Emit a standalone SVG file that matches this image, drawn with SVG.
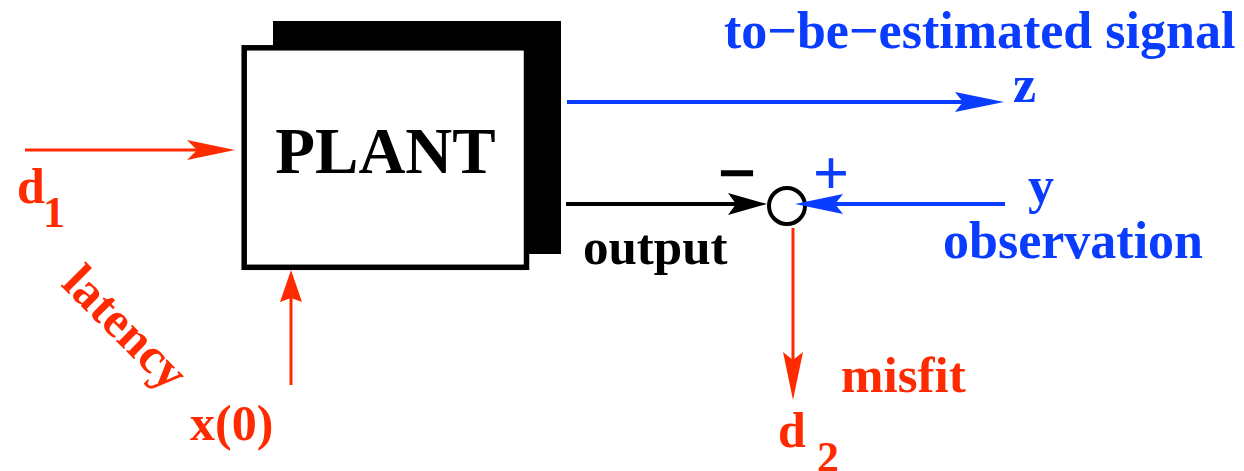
<svg xmlns="http://www.w3.org/2000/svg" width="1244" height="471" viewBox="0 0 1244 471">
<style>
text{font-family:"Liberation Serif","Times New Roman",serif;font-weight:bold}
.red{fill:#ff2a00}
.blue{fill:#0a3cff}
.blk{fill:#000}
.lr{stroke:#ff2a00;stroke-width:3;fill:none}
.lb{stroke:#0a3cff;stroke-width:4;fill:none}
.lk{stroke:#000;stroke-width:4;fill:none}
</style>
<rect width="1244" height="471" fill="#fff"/>
<g id="plant">
<rect x="273" y="21" width="288" height="233" fill="#000"/>
<rect x="244.2" y="47.8" width="282.3" height="219.5" fill="#fff" stroke="#000" stroke-width="5.5"/>
<text x="385.5" y="173" font-size="65" text-anchor="middle" class="blk">PLANT</text>
</g>
<g id="summing-junction">
<circle cx="787" cy="206" r="18" fill="#fff" stroke="#000" stroke-width="4"/>
<text x="737" y="195" font-size="66" text-anchor="middle" class="blk" stroke="#000" stroke-width="1.5">−</text>
<text x="831" y="194" font-size="64" text-anchor="middle" class="blue">+</text>
</g>
<g id="connectors">
<line class="lr" x1="25" y1="150" x2="200" y2="150"/>
<path class="red" d="M235,150 L187,140 L197,150 L187,160 Z"/>
<line class="lr" x1="291" y1="385" x2="291" y2="295"/>
<path class="red" d="M291,270 L280,302 L291,298 L302,302 Z"/>
<line class="lb" x1="567" y1="102" x2="965" y2="102"/>
<path class="blue" d="M1004,102 L955,92 L963,102 L955,112 Z"/>
<line class="lk" x1="566" y1="204" x2="740" y2="204"/>
<path class="blk" d="M767,204 L728,193 L736,204 L728,215 Z"/>
<line class="lb" x1="1005" y1="204" x2="830" y2="204"/>
<path class="blue" d="M795,204 L843,194 L835,204 L843,214 Z"/>
<line class="lr" x1="793" y1="228" x2="793" y2="365"/>
<path class="red" d="M793,400 L783,352 L793,360 L803,352 Z"/>
</g>
<g id="labels">
<text x="724" y="48" font-size="52" class="blue">to−be−estimated signal</text>
<text x="1013" y="102" font-size="52" class="blue">z</text>
<text x="1028" y="203" font-size="52" class="blue">y</text>
<text x="943" y="258" font-size="52" class="blue">observation</text>
<text x="583" y="264" font-size="51" class="blk">output</text>
<text x="841" y="392" font-size="51" class="red">misfit</text>
<text x="778" y="447" font-size="50" class="red">d</text>
<text x="817" y="472" font-size="44" class="red">2</text>
<text x="17" y="203" font-size="50" class="red">d</text>
<text x="43" y="227" font-size="44" class="red">1</text>
<text x="190" y="440" font-size="50" class="red">x(0)</text>
<text x="60" y="285" font-size="50" class="red" transform="rotate(45 60 285)">latency</text>
</g>
</svg>
